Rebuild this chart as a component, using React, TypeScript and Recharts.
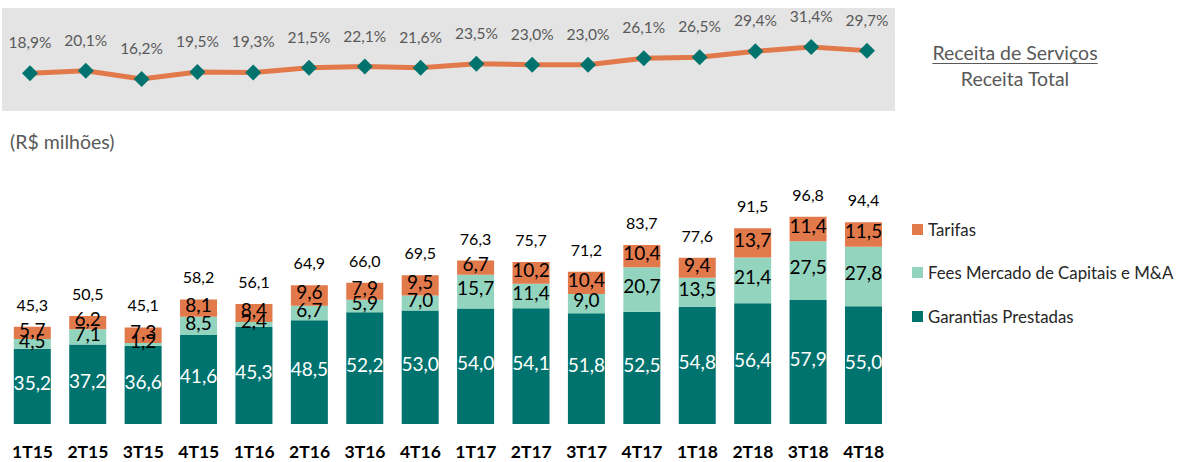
import React from 'react'
import { BarChart, Bar, LineChart, Line, XAxis, YAxis, LabelList } from 'recharts'

const categories = ['1T15', '2T15', '3T15', '4T15', '1T16', '2T16', '3T16', '4T16', '1T17', '2T17', '3T17', '4T17', '1T18', '2T18', '3T18', '4T18']
const servicosRatio = [18.9, 20.1, 16.2, 19.5, 19.3, 21.5, 22.1, 21.6, 23.5, 23.0, 23.0, 26.1, 26.5, 29.4, 31.4, 29.7]
const garantias = [35.2, 37.2, 36.6, 41.6, 45.3, 48.5, 52.2, 53.0, 54.0, 54.1, 51.8, 52.5, 54.8, 56.4, 57.9, 55.0]
const fees = [4.5, 7.1, 1.2, 8.5, 2.4, 6.7, 5.9, 7.0, 15.7, 11.4, 9.0, 20.7, 13.5, 21.4, 27.5, 27.8]
const tarifas = [5.7, 6.2, 7.3, 8.1, 8.4, 9.6, 7.9, 9.5, 6.7, 10.2, 10.4, 10.4, 9.4, 13.7, 11.4, 11.5]
const totals = [45.3, 50.5, 45.1, 58.2, 56.1, 64.9, 66.0, 69.5, 76.3, 75.7, 71.2, 83.7, 77.6, 91.5, 96.8, 94.4]

const TEAL = '#00736e'
const MINT = '#93d4be'
const ORANGE = '#e2794b'
const GREY_TEXT = '#595959'
const FONT = 'Lato, "Noto Sans", sans-serif'

const lineData = categories.map((name, i) => ({ name, ratio: servicosRatio[i] }))
const barData = categories.map((name, i) => ({
  name,
  garantias: garantias[i],
  fees: fees[i],
  tarifas: tarifas[i],
  total: totals[i],
}))

const fmt = (v: number) => v.toFixed(1).replace('.', ',')

// diamond marker for the ratio line
const Diamond = (props: any) => {
  const { cx, cy } = props
  if (cx == null || cy == null) return null
  const r = 8
  return <polygon points={`${cx},${cy - r} ${cx + r},${cy} ${cx},${cy + r} ${cx - r},${cy}`} fill={TEAL} />
}

// centered label inside a stacked segment
const centerLabel = (color: string) => (props: any) => {
  const { x, y, width, height, value } = props
  const fs = 19
  return (
    <text
      x={x + width / 2}
      y={y + height / 2 + fs * 0.355 - 3}
      textAnchor="middle"
      fill={color}
      fontSize={fs}
      fontFamily={FONT}
    >
      {fmt(value)}
    </text>
  )
}

const legendItems = [
  { label: 'Tarifas', color: ORANGE, top: 219 },
  { label: 'Fees Mercado de Capitais e M&A', color: MINT, top: 262 },
  { label: 'Garantias Prestadas', color: TEAL, top: 306 },
]

export default function App() {
  return (
    <div style={{ position: 'absolute', left: 0, top: 0, width: 1179, height: 462, background: '#fff', fontFamily: FONT, overflow: 'hidden' }}>
      {/* grey panel behind the ratio line */}
      <div style={{ position: 'absolute', left: 2, top: 8, width: 893, height: 103, background: '#e4e4e4' }} />
      <div style={{ position: 'absolute', left: 0, top: 0 }}>
        <LineChart width={895} height={120} data={lineData} margin={{ top: 8, right: 28, bottom: 7, left: 30 }}>
          <XAxis dataKey="name" hide />
          <YAxis hide domain={[0, 50]} />
          <Line
            dataKey="ratio"
            stroke={ORANGE}
            strokeWidth={5}
            dot={<Diamond />}
            activeDot={false}
            isAnimationActive={false}
          >
            <LabelList
              dataKey="ratio"
              position="top"
              offset={25}
              formatter={(v: any) => `${fmt(Number(v))}%`}
              fill={GREY_TEXT}
              fontSize={15.5}
              fontFamily={FONT}
            />
          </Line>
        </LineChart>
      </div>

      <div style={{ position: 'absolute', left: 0, top: 0, width: 1179, textAlign: 'left' }}>
        <div style={{ position: 'absolute', left: 902, top: 40, width: 226, textAlign: 'center', color: GREY_TEXT, fontSize: 19.5, lineHeight: '26px' }}>
          <div style={{ textDecoration: 'underline', textUnderlineOffset: 3, textDecorationThickness: 1 }}>Receita de Serviços</div>
          <div>Receita Total</div>
        </div>
        <div style={{ position: 'absolute', left: 10, top: 130, color: GREY_TEXT, fontSize: 19.5 }}>(R$ milhões)</div>
        {legendItems.map((it) => (
          <div key={it.label} style={{ position: 'absolute', left: 912, top: it.top, display: 'flex', alignItems: 'center', color: '#262626', fontSize: 16.8 }}>
            <span style={{ display: 'inline-block', width: 11, height: 11, background: it.color, marginRight: 5 }} />
            <span>{it.label}</span>
          </div>
        ))}
      </div>

      <div style={{ position: 'absolute', left: 0, top: 150 }}>
        <BarChart width={895} height={312} data={barData} margin={{ top: 60, right: 3.6, bottom: 8, left: 4.8 }} barSize={37}>
          <XAxis
            dataKey="name"
            axisLine={false}
            tickLine={false}
            height={30}
            tickMargin={16}
            interval={0}
            tick={{ fill: '#000', fontSize: 17.5, fontWeight: 700, fontFamily: FONT }}
          />
          <YAxis hide domain={[0, 100]} />
          <Bar dataKey="garantias" stackId="a" fill={TEAL} isAnimationActive={false}>
            <LabelList dataKey="garantias" content={centerLabel('#ffffff')} />
          </Bar>
          <Bar dataKey="fees" stackId="a" fill={MINT} isAnimationActive={false}>
            <LabelList dataKey="fees" content={centerLabel('#000000')} />
          </Bar>
          <Bar dataKey="tarifas" stackId="a" fill={ORANGE} isAnimationActive={false}>
            <LabelList dataKey="tarifas" content={centerLabel('#000000')} />
            <LabelList
              dataKey="total"
              position="top"
              offset={16}
              formatter={(v: any) => fmt(Number(v))}
              fill="#000"
              fontSize={16}
              fontFamily={FONT}
            />
          </Bar>
        </BarChart>
      </div>
    </div>
  )
}
